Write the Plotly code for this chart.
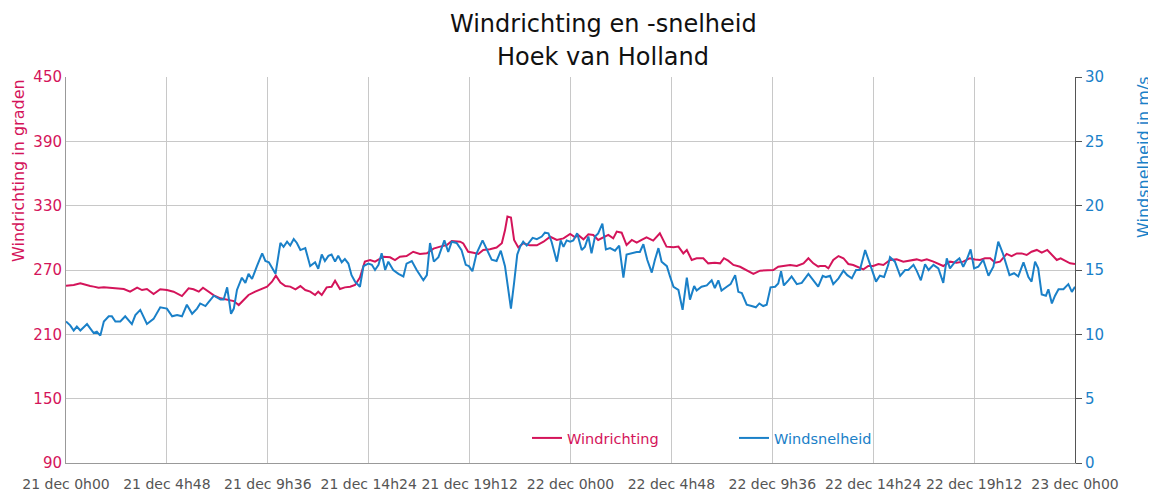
import plotly.graph_objects as go
import pandas as pd

# ---- data (minutes after 21 dec 0h00) ----
dir_minutes = [0, 22, 41, 55, 69, 79, 93, 108, 127, 146, 165, 183, 203, 217, 231, 250, 269, 288, 307, 331,
               350, 364, 379, 391, 407, 422, 441, 460, 479, 493, 507, 521, 540, 560, 574, 588, 599, 612, 626, 640,
               655, 669, 683,
               697, 711, 720, 730, 744, 758, 768, 782, 796, 811, 825, 839, 853, 868, 882, 906, 925, 939, 953, 972,
               991, 1010, 1030, 1049, 1068, 1087, 1101, 1125, 1134, 1148, 1163, 1177, 1191, 1210, 1229, 1244, 1253,
               1260, 1270, 1279, 1291, 1305, 1324, 1344, 1363, 1382, 1401, 1420, 1439,
               1453, 1462, 1477, 1491, 1505, 1519, 1534, 1548, 1562, 1572, 1586, 1600, 1615, 1629, 1643, 1657, 1676,
               1695, 1714, 1734, 1748, 1762, 1772, 1786, 1800, 1819, 1833, 1852, 1867, 1878, 1890, 1905, 1924, 1943,
               1962, 1981, 2000, 2019, 2033, 2048, 2067, 2086, 2105, 2119, 2133, 2147,
               2152, 2167, 2176, 2190, 2205, 2219, 2233, 2247, 2262, 2276, 2290, 2304, 2319, 2333, 2352, 2371, 2390,
               2409, 2428, 2442, 2457, 2476, 2495, 2504, 2523, 2542, 2561, 2580, 2595, 2609, 2623, 2638, 2652, 2666,
               2685, 2699, 2714, 2728, 2742, 2756, 2771, 2785, 2801, 2814, 2828, 2839, 2852, 2866, 2880]
dir_values = [255.4, 256, 257.6, 256, 255, 254.5, 253.5, 253.8, 253.2, 252.6, 252.3, 249.8, 253.5, 251.3, 252.3,
              247.6, 252, 251.3, 249.8, 245.7, 252.9, 252, 249.8, 253.5, 249.8, 246.4, 243.6, 242, 241, 237.3,
              242, 246.7, 249.8, 252.9, 254.5, 259.1, 264.7, 258.2, 255, 254.5, 252, 255, 251.3,
              249.8, 246.7, 249.8, 246.7, 253.8, 254.4, 260, 252.3, 253.8, 254.4, 256, 263, 277.8, 279.3, 277.8,
              282.4, 281.8, 279.3, 282.4, 283, 287, 285, 285.6, 290, 291.8, 293.3, 297, 296.4, 294.8, 287,
              286.1, 285, 288.7, 289.3, 291, 295, 307, 319.8, 319, 298, 291, 295, 293, 293, 296.4, 301, 298,
              299.5, 303.6,
              300.5, 302.7, 298.6, 303.3, 302.7, 298, 300.5, 302.7, 299.5, 305.8, 304.8, 293.3, 298, 295.5, 298,
              300.5, 297.4, 304.2, 291.8, 291.2, 291.8, 285.5, 288.7, 279.3, 280.9, 281, 276.2, 276.8, 276.2, 281,
              278.7, 274.7, 273, 270, 266.3, 269.4, 269.4, 270, 273.1, 273.7, 274.7, 273.7, 276.2, 281, 276.2, 273.1,
              273.7, 273.7, 271.5, 279.3, 283, 281, 275.6, 274.7, 272.5, 270.6, 273.7, 273.7, 275.6, 274.7, 279.3,
              279.9, 277.8, 278.7, 279.9, 278.7, 279.9, 277.8, 274.7, 273.7, 277.8, 276.8, 277.8, 281, 279.9, 279.3,
              281, 281, 276.8, 277.8, 285, 283, 285.5, 285.5, 284, 287, 288.7, 286.1, 288.7, 284, 279.3, 280.9,
              278.7, 276.2, 275.6]

spd_minutes = [0, 12, 22, 31, 41, 60, 79, 88, 98, 108, 122, 131, 141, 155, 169, 188, 198, 212, 231, 250,
               269, 288, 303, 317, 331, 345, 360, 374, 383, 398, 407, 422, 441, 450, 460, 471, 479, 488, 502, 512,
               521, 531, 545, 560, 569, 579, 598, 612, 621, 631, 640, 650, 659, 669, 683,
               697, 711, 720, 730, 739, 749, 758, 768, 777, 787, 796, 806, 815, 825, 839, 849, 863, 873, 882, 892,
               901, 911, 920, 934, 949, 963, 972, 987, 1001, 1020, 1030, 1039, 1050, 1063, 1080, 1091, 1101, 1115,
               1129, 1141, 1150, 1160, 1172, 1189, 1201, 1215, 1229, 1241, 1253, 1263, 1270, 1279, 1288, 1296, 1305,
               1315, 1324, 1332, 1344, 1358, 1367, 1377, 1386, 1401, 1412, 1420, 1429, 1439,
               1448, 1459, 1472, 1481, 1491, 1500, 1510, 1519, 1531, 1541, 1553, 1567, 1579, 1591, 1600, 1615, 1629,
               1638, 1648, 1659, 1672, 1681, 1691, 1700, 1715, 1724, 1734, 1748, 1760, 1772, 1781, 1793, 1800, 1814,
               1829, 1843, 1852, 1862, 1871, 1886, 1897, 1910, 1919, 1929, 1943, 1957, 1969, 1979, 1990, 2000, 2011,
               2024, 2033, 2041, 2049, 2062, 2071, 2086, 2100, 2119, 2133, 2147,
               2160, 2169, 2181, 2190, 2205, 2219, 2230, 2243, 2255, 2266, 2281, 2295, 2312, 2323, 2335, 2347, 2352,
               2366, 2381, 2395, 2404, 2419, 2428, 2440, 2452, 2462, 2476, 2490, 2504, 2514, 2523, 2538, 2550, 2561,
               2571, 2582, 2592, 2604, 2618, 2633, 2647, 2661, 2674, 2693, 2706, 2718, 2733, 2747, 2756, 2766, 2775,
               2785, 2797, 2804, 2814, 2823, 2833, 2847, 2861, 2871, 2880]
spd_values = [11.0, 10.7, 10.3, 10.6, 10.3, 10.8, 10.1, 10.2, 9.9, 11.0, 11.4, 11.4, 11.0, 11.0, 11.4, 10.8, 11.5,
              11.9, 10.8, 11.2, 12.1, 12.0, 11.4, 11.5, 11.4, 12.3, 11.6, 12.0, 12.4, 12.2, 12.5, 13.0, 12.7, 12.7,
              13.65, 11.6, 12.0, 13.45, 14.4, 14.0, 14.7, 14.3, 15.3, 16.3, 15.7, 15.6, 14.7, 17.1, 16.8, 17.2,
              16.9, 17.4, 17.1, 16.55, 16.7,
              15.3, 15.6, 15.1, 16.2, 15.7, 16.1, 16.2, 15.65, 16.1, 15.6, 15.85, 15.5, 14.6, 14.1, 13.7, 15.3,
              15.5, 15.4, 15.0, 15.4, 16.3, 15.0, 15.65, 15.0, 14.7, 14.5, 15.5, 15.7, 15.0, 14.2, 14.6, 17.1,
              15.65, 16.0, 17.3, 16.4, 17.2, 17.1, 16.55, 15.4, 15.3, 14.9, 16.3, 17.3, 16.55, 15.8, 15.7, 16.5,
              15.3, 13.45, 12.0, 14.0, 16.2, 16.8, 17.2, 16.9, 17.2, 17.5, 17.4, 17.6, 17.9, 17.85, 17.2, 15.65,
              17.3, 16.8, 17.3, 17.2,
              17.3, 17.85, 16.55, 16.8, 17.6, 16.3, 17.6, 17.85, 18.6, 16.6, 16.7, 16.5, 16.9, 14.4, 16.2, 16.3,
              16.4, 16.4, 17.0, 15.8, 14.8, 15.8, 16.7, 15.65, 15.3, 14.5, 13.7, 13.45, 11.9, 14.4, 12.7, 13.75,
              13.4, 13.7, 13.8, 14.2, 13.6, 14.2, 13.4, 13.7, 13.9, 14.6, 13.3, 13.2, 12.3, 12.2, 12.1, 12.4,
              12.2, 12.3, 13.65, 13.7, 13.95, 14.9, 13.8, 14.2, 14.5, 13.9, 14.0, 14.7, 14.2, 13.7,
              14.55, 14.45, 14.55, 13.9, 14.35, 14.95, 14.6, 14.35, 15.0, 15.0, 16.55, 15.4, 14.1, 14.55, 14.45,
              15.4, 16.0, 15.65, 14.55, 15.0, 15.0, 15.4, 14.95, 14.2, 15.45, 15.0, 15.4, 15.13, 14.0, 15.9,
              15.13, 15.65, 15.9, 15.25, 15.8, 16.6, 15.13, 15.25, 15.8, 14.55, 15.25, 17.2, 16.3, 14.6, 14.75,
              14.5, 15.6, 14.45, 14.1, 15.65, 15.13, 13.1, 13.0, 13.5, 12.4, 13.0, 13.5, 13.5, 13.9, 13.3, 13.7]

tick_labels = ["21 dec 0h00", "21 dec 4h48", "21 dec 9h36", "21 dec 14h24", "21 dec 19h12",
               "22 dec 0h00", "22 dec 4h48", "22 dec 9h36", "22 dec 14h24", "22 dec 19h12", "23 dec 0h00"]

series_names = ["Windrichting", "Windsnelheid"]
title_lines = ["Windrichting en -snelheid", "Hoek van Holland"]
left_title = "Windrichting in graden"
right_title = "Windsnelheid in m/s"

# ---- styling ----
RED = "#d4145a"
BLUE = "#1a80c8"
FONT = "DejaVu Sans"

# plot area in page pixels (the page body adds an 8px offset)
PL, PR, PT, PB = 66, 1075, 77, 463
PW, PH = PR - PL, PB - PT


def px_x(x):
    return (x - PL) / PW


def px_y(y):
    return (PB - y) / PH


start = pd.Timestamp("2024-12-21 00:00")
dir_x = start + pd.to_timedelta(dir_minutes, unit="min")
spd_x = start + pd.to_timedelta(spd_minutes, unit="min")
tick_vals = pd.date_range(start, periods=len(tick_labels), freq="288min")

fig = go.Figure()
fig.add_trace(go.Scatter(
    x=dir_x, y=dir_values, mode="lines", yaxis="y",
    name=f'<span style="color:{RED}">{series_names[0]}</span>',
    line=dict(color=RED, width=2)))
fig.add_trace(go.Scatter(
    x=spd_x, y=spd_values, mode="lines", yaxis="y2",
    name=f'<span style="color:{BLUE}">{series_names[1]}</span>',
    line=dict(color=BLUE, width=2)))

fig.update_layout(
    width=1148, height=486,
    margin=dict(l=PL - 8, r=1156 - PR, t=PT - 8, b=494 - PB, autoexpand=False),
    paper_bgcolor="white", plot_bgcolor="white",
    font=dict(family=FONT, size=14, color="#444"),
    xaxis=dict(type="date", range=[start, start + pd.Timedelta(hours=48)],
               tickvals=tick_vals, ticktext=tick_labels, showgrid=True, gridcolor="#c8c8c8", gridwidth=1,
               showline=True, linecolor="#999", linewidth=1, ticks="", zeroline=False,
               tickangle=0, automargin=False, ticklabelstandoff=8,
               tickfont=dict(family=FONT, size=14, color="#555")),
    yaxis=dict(range=[90, 450], tick0=90, dtick=60, showgrid=True, gridcolor="#c8c8c8", gridwidth=1,
               showline=True, linecolor="#999", linewidth=1, ticks="", zeroline=False,
               tickfont=dict(family=FONT, size=15, color=RED)),
    yaxis2=dict(range=[0, 30], tick0=0, dtick=5, overlaying="y", side="right", showgrid=False,
                showline=True, linecolor="#555", linewidth=1, ticks="outside", ticklen=6, tickcolor="#555",
                zeroline=False, tickfont=dict(family=FONT, size=15, color=BLUE)),
    legend=dict(orientation="h", x=px_x(527), y=px_y(438), xanchor="left", yanchor="middle",
                bgcolor="rgba(0,0,0,0)", font=dict(family=FONT, size=14.5),
                entrywidth=162, entrywidthmode="pixels"),
    showlegend=True,
    annotations=[
        dict(text=title_lines[0], xref="paper", yref="paper", x=px_x(603), y=px_y(24),
             xanchor="center", yanchor="middle", showarrow=False,
             font=dict(family=FONT, size=24, color="#111")),
        dict(text=title_lines[1], xref="paper", yref="paper", x=px_x(603), y=px_y(57),
             xanchor="center", yanchor="middle", showarrow=False,
             font=dict(family=FONT, size=24, color="#111")),
        dict(text=left_title, textangle=-90, xref="paper", yref="paper",
             x=px_x(18), y=px_y(171), xanchor="center", yanchor="middle",
             showarrow=False, font=dict(family=FONT, size=16, color=RED)),
        dict(text=right_title, textangle=-90, xref="paper", yref="paper",
             x=px_x(1143), y=px_y(157), xanchor="center", yanchor="middle",
             showarrow=False, font=dict(family=FONT, size=16, color=BLUE)),
    ],
)

fig.write_html("out.html")
